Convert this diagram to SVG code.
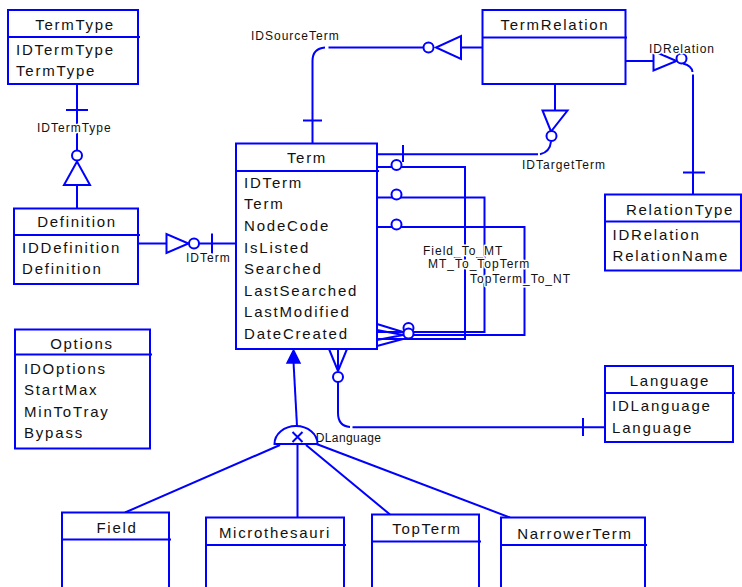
<svg xmlns="http://www.w3.org/2000/svg" width="742" height="587" viewBox="0 0 742 587">
<style>
.box{fill:#fff;stroke:#0000ff;stroke-width:2}
.ln{fill:none;stroke:#0000ff;stroke-width:2}
.sym{fill:#fff;stroke:#0000ff;stroke-width:2}
.fillsym{fill:#0000ff;stroke:#0000ff;stroke-width:1.5}
text{font-family:"Liberation Sans",Arial,sans-serif;fill:#111}
.hd{font-size:15px;letter-spacing:1.7px;text-anchor:middle}
.at{font-size:15px;letter-spacing:1.8px}
.lb{font-size:12px;letter-spacing:1px;paint-order:stroke;stroke:#fff;stroke-width:3px;stroke-linejoin:round}
.lbp{font-size:12px;letter-spacing:0.4px}
</style>
<rect width="742" height="587" fill="#fff"/>

<g id="connectors">
  <!-- TermType to Definition -->
  <path class="ln" d="M77 84 V150.5 M77 185 V208.5 M66 110 H88"/>
  <polygon class="sym" points="64,185 90,185 77,161.5"/>
  <circle class="sym" cx="77" cy="155.5" r="5"/>
  <text class="lb" x="37" y="132">IDTermType</text>

  <!-- Definition to Term -->
  <path class="ln" d="M138 243.5 H166.5 M199 243.5 H236 M212 233.5 V253.5"/>
  <polygon class="sym" points="166.5,234 166.5,253 188.5,243.5"/>
  <circle class="sym" cx="194" cy="243.5" r="5"/>
  <text class="lb" x="186" y="262">IDTerm</text>

  <!-- Term to TermRelation (IDSourceTerm) -->
  <path class="ln" d="M312.5 143.5 V61 Q312.5 48.5 325 47.5 M328.5 47.5 H423 M461 47.5 H482.5 M303 120.5 H322"/>
  <polygon class="sym" points="461,36 461,59 436,47.5"/>
  <circle class="sym" cx="428.5" cy="47.5" r="5"/>
  <text class="lb" x="251" y="40">IDSourceTerm</text>

  <!-- TermRelation to Term (IDTargetTerm) -->
  <path class="ln" d="M555 84 V110.5 M377 154.3 H538 M540 154.3 Q550 152 551 141.5 M403 145 V162"/>
  <polygon class="sym" points="542.5,110.5 567.5,110.5 551,131.5"/>
  <circle class="sym" cx="551.5" cy="136" r="5"/>
  <text class="lb" x="522" y="169">IDTargetTerm</text>

  <!-- TermRelation to RelationType (IDRelation) -->
  <path class="ln" d="M625 61 H653.5 M683 63.5 Q692 66 692.5 72 M693 74.5 V194.5 M683 172.5 H705"/>
  <polygon class="sym" points="653.5,51 653.5,70.5 676.5,61"/>
  <circle class="sym" cx="681.5" cy="58.5" r="5"/>
  <text class="lb" x="649" y="53">IDRelation</text>

  <!-- Self relationships -->
  <path class="ln" d="M377 167 H465 V339 H403"/>
  <path class="ln" d="M377 197.5 H484.5 V332 H403"/>
  <path class="ln" d="M377 227 H524.5 V335 H403"/>
  <path class="ln" d="M403 332 L377 324 M403 332 L377 332 M403 335 L377 330 M403 335 L377 340 M403 339 L377 339 M403 339 L377 346"/>
  <circle class="sym" cx="396.5" cy="165" r="5"/>
  <circle class="sym" cx="396.5" cy="194.5" r="5"/>
  <circle class="sym" cx="396.5" cy="224.5" r="5"/>
  <circle class="sym" cx="408.5" cy="328" r="5"/>
  <circle class="sym" cx="408.5" cy="333.5" r="5"/>
  <text class="lb" x="423" y="255">Field_To_MT</text>
  <text class="lb" x="428" y="268">MT_To_TopTerm</text>
  <text class="lb" x="470" y="283">TopTerm_To_NT</text>

  <!-- Term to Language -->
  <path class="ln" d="M329 349 L338 371 M338 349 V371 M347 349 L338 371 M338 382 V413 Q338 426 350 427 M352.5 427.3 H605 M583 418 V436"/>
  <circle class="sym" cx="338" cy="377" r="5"/>

  <!-- Category (subtypes) -->
  <text class="lbp" x="312" y="442">IDLanguage</text>
  <path class="ln" d="M293.5 362 L297 426"/>
  <polygon class="fillsym" points="293.5,350 287,363 300,363"/>
  <path class="sym" d="M274.5 444 A21.5 18 0 0 1 317.5 444 Z"/>
  <path class="ln" d="M292.5 432 L302.5 442 M302.5 432 L292.5 442"/>
  <path class="ln" d="M280 445 L125 512.5 M297.5 444 V517.5 M306 445 L390 514.5 M316.5 444 L510 517.5"/>
</g>

<g id="TermType">
  <rect class="box" x="8" y="10" width="130" height="74"/>
  <line class="ln" x1="8" y1="37" x2="140" y2="37"/>
  <text class="hd" x="75" y="30">TermType</text>
  <text class="at" x="16" y="55">IDTermType</text>
  <text class="at" x="16" y="76">TermType</text>
</g>

<g id="Definition">
  <rect class="box" x="14" y="208.5" width="124" height="75.5"/>
  <line class="ln" x1="14" y1="235" x2="140" y2="235"/>
  <text class="hd" x="77" y="227">Definition</text>
  <text class="at" x="22" y="252.5">IDDefinition</text>
  <text class="at" x="22" y="273.5">Definition</text>
</g>

<g id="Term">
  <rect class="box" x="236" y="143.5" width="141" height="205.5"/>
  <line class="ln" x1="236" y1="171" x2="379" y2="171"/>
  <text class="hd" x="307" y="162.5">Term</text>
  <text class="at" x="244" y="187.5">IDTerm</text>
  <text class="at" x="244" y="209">Term</text>
  <text class="at" x="244" y="230.5">NodeCode</text>
  <text class="at" x="244" y="252.5">IsListed</text>
  <text class="at" x="244" y="274">Searched</text>
  <text class="at" x="244" y="295.5">LastSearched</text>
  <text class="at" x="244" y="317">LastModified</text>
  <text class="at" x="244" y="338.5">DateCreated</text>
</g>

<g id="TermRelation">
  <rect class="box" x="482.5" y="10" width="143" height="74"/>
  <line class="ln" x1="482.5" y1="37.5" x2="627" y2="37.5"/>
  <text class="hd" x="555" y="29.5">TermRelation</text>
</g>

<g id="RelationType">
  <rect class="box" x="605" y="194.5" width="136" height="76"/>
  <line class="ln" x1="605" y1="221.5" x2="742" y2="221.5"/>
  <text class="hd" x="680" y="215">RelationType</text>
  <text class="at" x="612.5" y="240">IDRelation</text>
  <text class="at" x="612.5" y="261">RelationName</text>
</g>

<g id="Options">
  <rect class="box" x="15" y="329.5" width="135" height="119"/>
  <line class="ln" x1="15" y1="354.5" x2="152" y2="354.5"/>
  <text class="hd" x="82" y="349">Options</text>
  <text class="at" x="24" y="373.5">IDOptions</text>
  <text class="at" x="24" y="395">StartMax</text>
  <text class="at" x="24" y="416.5">MinToTray</text>
  <text class="at" x="24" y="437.5">Bypass</text>
</g>

<g id="Language">
  <rect class="box" x="605" y="366" width="128" height="76"/>
  <line class="ln" x1="605" y1="393" x2="735" y2="393"/>
  <text class="hd" x="670" y="386">Language</text>
  <text class="at" x="612" y="411">IDLanguage</text>
  <text class="at" x="612" y="432.5">Language</text>
</g>

<g id="Field">
  <rect class="box" x="62" y="512.5" width="107" height="100"/>
  <line class="ln" x1="62" y1="539.5" x2="171" y2="539.5"/>
  <text class="hd" x="117" y="533">Field</text>
</g>

<g id="Microthesauri">
  <rect class="box" x="206" y="517.5" width="138" height="100"/>
  <line class="ln" x1="206" y1="545" x2="346" y2="545"/>
  <text class="hd" x="275" y="538">Microthesauri</text>
</g>

<g id="TopTerm">
  <rect class="box" x="372" y="514.5" width="107" height="100"/>
  <line class="ln" x1="372" y1="541.5" x2="481" y2="541.5"/>
  <text class="hd" x="427" y="534">TopTerm</text>
</g>

<g id="NarrowerTerm">
  <rect class="box" x="501" y="517.5" width="144" height="100"/>
  <line class="ln" x1="501" y1="545" x2="647" y2="545"/>
  <text class="hd" x="575" y="538.5">NarrowerTerm</text>
</g>
</svg>
